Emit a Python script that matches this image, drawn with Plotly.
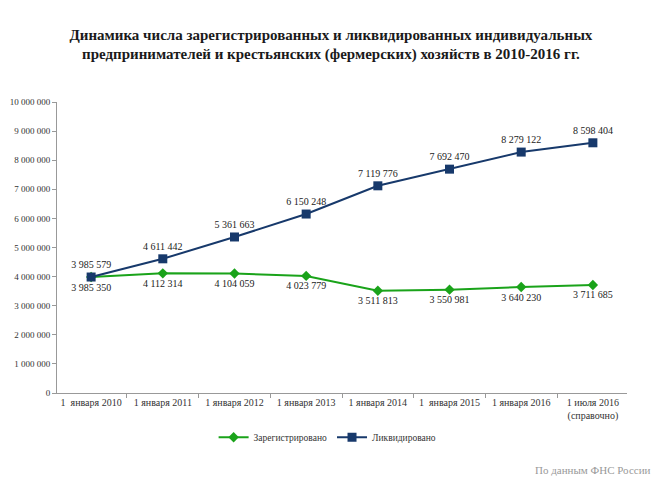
import plotly.graph_objects as go

daty = ["1  января 2010", "1 января 2011", "1 января 2012", "1 января 2013",
        "1 января 2014", "1  января 2015", "1 января 2016", "1 июля 2016<br>(справочно)"]
zaregistrirovano = [3985350, 4112314, 4104059, 4023779, 3511813, 3550981, 3640230, 3711685]
likvidirovano = [3985579, 4611442, 5361663, 6150248, 7119776, 7692470, 8279122, 8598404]

serif = '"Liberation Serif", "Times New Roman", serif'

fig = go.Figure()
fig.add_trace(go.Scatter(
    x=daty, y=zaregistrirovano, name="Зарегистрировано",
    mode="lines+markers+text",
    line=dict(color="#1aa31a", width=2),
    marker=dict(symbol="diamond", size=8, color="#1aa31a"),
    texttemplate="%{y:,d}", textposition="bottom center",
    textfont=dict(family=serif, size=10, color="#222222"),
))
fig.add_trace(go.Scatter(
    x=daty, y=likvidirovano, name="Ликвидировано",
    mode="lines+markers+text",
    line=dict(color="#17396b", width=2),
    marker=dict(symbol="square", size=9, color="#17396b"),
    texttemplate="%{y:,d}", textposition="top center",
    textfont=dict(family=serif, size=10, color="#222222"),
))

fig.update_layout(
    width=659, height=485,
    paper_bgcolor="white", plot_bgcolor="white",
    separators=". ",
    font=dict(family=serif, size=9, color="#333333"),
    title=dict(
        text="<b>Динамика числа зарегистрированных и ликвидированных индивидуальных<br>"
             "предпринимателей и крестьянских (фермерских) хозяйств в 2010-2016 гг.</b>",
        x=0.49, xanchor="center", y=0.935, yanchor="middle",
        font=dict(family=serif, size=15, color="#1a1a1a"),
    ),
    margin=dict(l=49, r=40, t=94, b=100, autoexpand=False),
    legend=dict(orientation="h", x=0.485, xanchor="center", xref="container",
                y=0.115, yanchor="middle", yref="container",
                font=dict(family=serif, size=9.5, color="#333333"),
                itemwidth=30),
    annotations=[dict(text="По данным ФНС России", xref="paper", yref="paper",
                      x=1.045, xanchor="right", y=-0.265, yanchor="middle", showarrow=False,
                      font=dict(family=serif, size=11, color="#999999"))],
)
fig.update_xaxes(showline=True, linecolor="#999999", ticks="outside", tickson="boundaries",
                 ticklen=4, tickcolor="#999999", showgrid=False, tickangle=0,
                 automargin=False,
                 tickfont=dict(family=serif, size=10, color="#333333"))
fig.update_yaxes(range=[0, 10000000], dtick=1000000, tickformat=",d", showline=True,
                 linecolor="#999999", ticks="outside", ticklen=4, tickcolor="#999999",
                 showgrid=False, zeroline=False, automargin=False,
                 tickfont=dict(family=serif, size=9, color="#333333"))

fig.write_html("out.html")
